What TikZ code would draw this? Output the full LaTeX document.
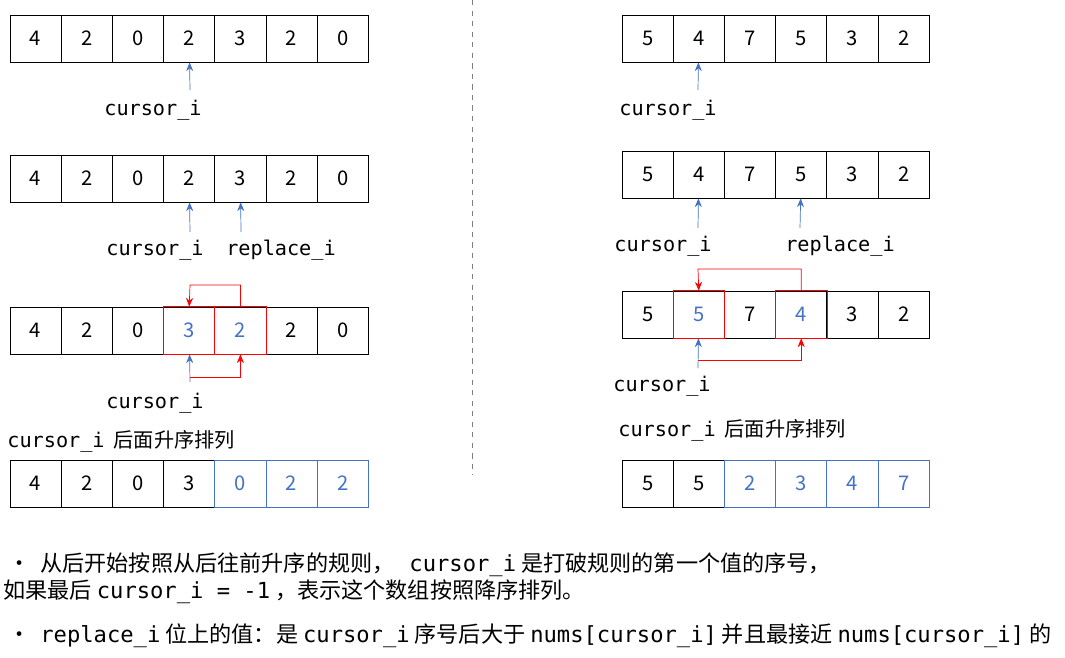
\documentclass[tikz,border=0pt]{standalone}
\usepackage{fontspec}
\setmainfont{Noto Sans CJK SC}
\setmonofont{DejaVu Sans Mono}
\usetikzlibrary{arrows.meta}
\definecolor{myblue}{RGB}{68,114,196}
\tikzset{
  cell/.style = {draw, minimum width=51.2*0.02cm, minimum height=47*0.02cm, inner sep=0pt, font=\fontsize{11.5}{13}\selectfont},
  cellA/.style = {},
  cellR/.style = {text=myblue},
  cellB/.style = {text=myblue, draw=myblue},
  ptr/.style = {myblue, -{Stealth[length=5pt,width=4pt]}},
  swap/.style = {red, -{Stealth[length=5pt,width=4pt]}},
  lbl/.style = {font=\ttfamily\fontsize{11.5}{13}\selectfont, inner sep=0pt},
  txt/.style = {font=\fontsize{11.5}{13}\selectfont, inner sep=0pt, anchor=west},
  note/.style = {font=\fontsize{12.6}{14}\selectfont, inner sep=0pt, anchor=west}
}
% one row of boxes: name, left x, top y, list of value/style
\newcommand{\arr}[4]{%
  \foreach \v/\s [count=\i] in {#4}
    \node[cell,\s] (#1-\i) at ({#2+(\i-0.5)*51.2}, {-(#3+23.5)}) {\v};}
\newcommand{\code}[1]{\ \texttt{#1}\ }
\begin{document}
\begin{tikzpicture}[x=0.02cm, y=0.02cm]
\useasboundingbox (0,0) rectangle (1065,-657);
\draw[dashed, gray] (472,0) -- (472,-475);

% left side
\arr{La}{10}{15}{4/cellA,2/cellA,0/cellA,2/cellA,3/cellA,2/cellA,0/cellA}
\arr{Lb}{10}{155}{4/cellA,2/cellA,0/cellA,2/cellA,3/cellA,2/cellA,0/cellA}
\arr{Lc}{10}{307}{4/cellA,2/cellA,0/cellA,3/cellR,2/cellR,2/cellA,0/cellA}
\arr{Ld}{10}{460}{4/cellA,2/cellA,0/cellA,3/cellA,0/cellB,2/cellB,2/cellB}
\draw[red] (Lc-4.north west) rectangle (Lc-5.south east);
\draw[red, line width=0.6pt] (Lc-5.north west) -- (Lc-5.south west);

\node[lbl] (lca) at (153,-110) {cursor\_i};
\coordinate (la1) at (190,-90);
\draw[ptr] (la1) -- (La-4);
\node[lbl] (lcb) at (155,-250) {cursor\_i};
\node[lbl] (lrb) at (281,-250) {replace\_i};
\coordinate (lb1) at (190,-232);
\coordinate (lb2) at (241,-232);
\draw[ptr] (lb1) -- (Lb-4);
\draw[ptr] (lb2) -- (Lb-5);
\node[lbl] (lcc) at (155,-403) {cursor\_i};
\coordinate (lc1) at (190,-382);
\draw[ptr] (lc1) -- (Lc-4);
\draw[swap] (190,-377) -| (Lc-5.south);
\draw[swap] (Lc-5.north) |- (190,-285) -- (Lc-4.north);
\node[txt] (lsort) at (7,-441) {\texttt{cursor\_i}\ \ 后面升序排列};

% right side
\arr{Ra}{622}{15}{5/cellA,4/cellA,7/cellA,5/cellA,3/cellA,2/cellA}
\arr{Rb}{622}{151}{5/cellA,4/cellA,7/cellA,5/cellA,3/cellA,2/cellA}
\arr{Rc}{622}{291}{5/cellA,5/cellR,7/cellA,4/cellR,3/cellA,2/cellA}
\arr{Rd}{622}{460}{5/cellA,5/cellA,2/cellB,3/cellB,4/cellB,7/cellB}
\draw[red] (Rc-2.north west) rectangle (Rc-2.south east);
\draw[red] (Rc-4.north west) rectangle (Rc-4.south east);

\node[lbl] (rca) at (668,-110) {cursor\_i};
\coordinate (ra1) at (698,-90);
\draw[ptr] (ra1) -- (Ra-2);
\node[lbl] (rcb) at (663,-246) {cursor\_i};
\node[lbl] (rrb) at (840,-246) {replace\_i};
\coordinate (rb1) at (698,-228);
\coordinate (rb2) at (800,-228);
\draw[ptr] (rb1) -- (Rb-2);
\draw[ptr] (rb2) -- (Rb-4);
\node[lbl] (rcc) at (662,-386) {cursor\_i};
\coordinate (rc1) at (698,-368);
\draw[ptr] (rc1) -- (Rc-2);
\draw[swap] (698,-360) -| (Rc-4.south);
\draw[swap] (Rc-4.north) |- (698,-269) -- (Rc-2.north);
\node[txt] (rsort) at (618,-430) {\texttt{cursor\_i}\ \ 后面升序排列};

% notes
\node[note] (n1) at (8,-565) {•\ \ 从后开始按照从后往前升序的规则，\ \ \code{cursor\_i}是打破规则的第一个值的序号，};
\node[note] (n2) at (3,-592) {如果最后\code{cursor\_i = -1}，表示这个数组按照降序排列。};
\node[note] (n3) at (8,-636) {•\ \code{replace\_i}位上的值：是\code{cursor\_i}序号后大于\code{nums[cursor\_i]}并且最接近\code{nums[cursor\_i]}的};
\end{tikzpicture}
\end{document}
